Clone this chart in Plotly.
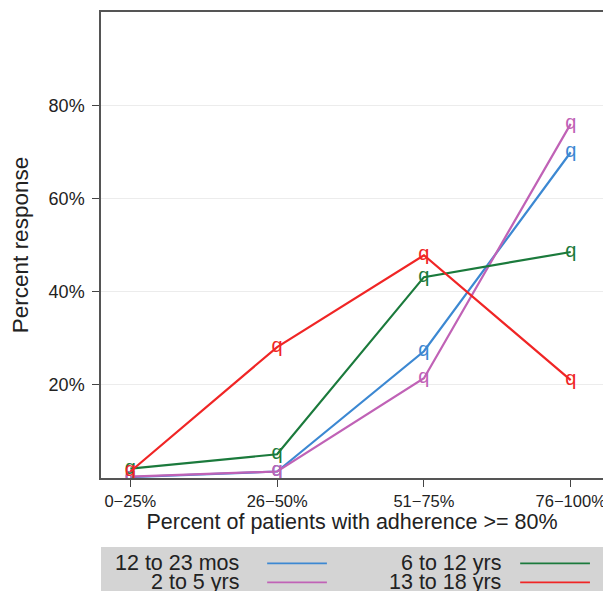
import plotly.graph_objects as go

categories = ["0\u221225%", "26\u221250%", "51\u221275%", "76\u2212100%"]
series_names = ["12 to 23 mos", "2 to 5 yrs", "6 to 12 yrs", "13 to 18 yrs"]
mos_12_23 = [0.2, 1.4, 27.2, 69.9]
yrs_2_5 = [0.3, 1.4, 21.4, 76.0]
yrs_6_12 = [2.0, 5.1, 43.1, 48.5]
yrs_13_18 = [1.4, 28.1, 47.8, 21.0]
colors = ["#3c88d2", "#c062b6", "#1b7a3c", "#f02525"]
y_ticks = [20, 40, 60, 80]
y_tick_labels = ["20%", "40%", "60%", "80%"]

values = [mos_12_23, yrs_2_5, yrs_6_12, yrs_13_18]
font = "Liberation Sans, Arial, sans-serif"

fig = go.Figure()
xs = list(range(len(categories)))
for name, vals, col in zip(series_names, values, colors):
    fig.add_trace(go.Scatter(
        x=xs, y=vals, name=name, mode="lines+text",
        text=["q"] * len(vals), textposition="middle center",
        textfont=dict(family=font, size=20, color=col),
        line=dict(color=col, width=2.2), showlegend=False,
    ))

# the page body adds an 8px offset, so the figure is 8px smaller
fig.update_layout(
    width=603, height=583,
    margin=dict(l=93, r=8, t=4, b=113),
    paper_bgcolor="white", plot_bgcolor="white",
    font=dict(family=font, size=18, color="#222"),
    xaxis=dict(
        range=[-0.2, 3.22], tickvals=xs, ticktext=categories,
        ticks="outside", ticklen=7, tickwidth=1.3, tickcolor="#444",
        showline=True, linecolor="#555", linewidth=1.5, mirror=True,
        showgrid=False, zeroline=False, automargin=False,
        ticklabeloverflow="allow",
        tickfont=dict(size=16.5, color="#222"),
        title=dict(text="Percent of patients with adherence >= 80%",
                   font=dict(size=21.5, color="#222"), standoff=2),
    ),
    yaxis=dict(
        range=[0, 100], tickvals=y_ticks, ticktext=y_tick_labels,
        ticks="outside", ticklen=7, tickwidth=1.3, tickcolor="#444",
        showline=True, linecolor="#555", linewidth=1.5, mirror="ticks",
        showgrid=True, gridcolor="#ececec", gridwidth=1, zeroline=False,
        automargin=False, ticklabelstandoff=4,
        tickfont=dict(size=18, color="#222"),
        title=dict(text="Percent response", font=dict(size=22.5, color="#222"), standoff=14),
    ),
)

# Legend box (manual, text left of sample line, two columns)
fig.add_shape(type="rect", xref="paper", yref="paper",
              x0=0, x1=1, y0=-0.27, y1=-0.148,
              fillcolor="#d4d4d4", line=dict(width=0), layer="below")
legend_pos = [(0, 0), (1, 0), (0, 1), (1, 1)]  # (row, col) for each series
text_right = [0.279, 0.801]
line_x = [(0.331, 0.450), (0.835, 0.974)]
row_y = [-0.183, -0.224]
for (r, c), name, col in zip(legend_pos, series_names, colors):
    fig.add_annotation(xref="paper", yref="paper", x=text_right[c], y=row_y[r],
                       text=name, showarrow=False, xanchor="right", yanchor="middle",
                       font=dict(size=21.5, color="#222"))
    fig.add_shape(type="line", xref="paper", yref="paper",
                  x0=line_x[c][0], x1=line_x[c][1], y0=row_y[r], y1=row_y[r],
                  line=dict(color=col, width=1.8))

fig.write_html("out.html")
